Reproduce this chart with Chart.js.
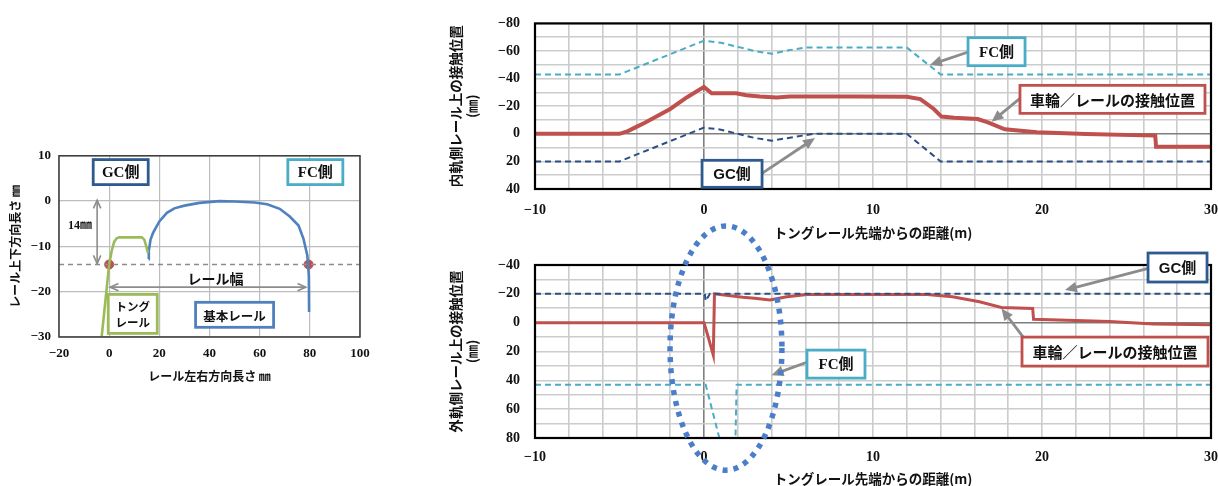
<!DOCTYPE html>
<html lang="ja">
<head>
<meta charset="utf-8">
<title>車輪／レールの接触位置</title>
<script src="https://cdn.jsdelivr.net/npm/chart.js@4.4.1/dist/chart.umd.min.js"></script>
<style>
  html, body { margin: 0; background: #fff; }
  body { position: relative; width: 1218px; height: 486px; overflow: hidden; }
  canvas { position: absolute; }
  #railChart { left: 0; top: 140px; }
  #innerChart { left: 440px; top: 0; }
  #outerChart { left: 440px; top: 215px; }
</style>
</head>
<body>
<canvas id="railChart" width="380" height="250"></canvas>
<canvas id="innerChart" width="778" height="250"></canvas>
<canvas id="outerChart" width="778" height="271"></canvas>
<script>
// rail cross section (mm)
const tongueX = [-3, -1.5, 0, 1, 2, 3, 4, 13, 14, 14.8, 15.5];
const tongueY = [-30, -22, -14, -11, -9, -8.2, -8, -8, -8.5, -10, -11.5];
const baseX = [15.7, 15.8, 16.5, 17.5, 20, 23, 26, 30, 36, 44, 50, 58, 63, 68, 72, 75.5, 77.5, 79, 79.6, 79.7];
const baseY = [-12.8, -11, -8.5, -7, -4.5, -2.6, -1.6, -1, -0.4, 0, -0.1, -0.3, -0.7, -1.7, -3.4, -5.4, -8.4, -12, -16.5, -24.5];
const gaugeX = [0, 79.5];
const gaugeY = [-14, -14];
const gaugeLineX = [-20, 100];
const railXLabels = [-20, 0, 20, 40, 60, 80, 100];
const railYLabels = [-30, -20, -10, 0, 10];

// inner rail contact position (mm) vs distance from tongue tip (m)
const innerFcX = [-10, -5, 0, 1, 2, 3, 4, 5, 6, 12, 14, 30];
const innerFcY = [-43, -43, -67.5, -66, -63, -60, -58, -60.5, -62.5, -62.5, -43, -43];
const innerGcX = [-10, -5, 0, 1, 2, 3, 4, 5, 6.5, 12, 14, 30];
const innerGcY = [20, 20, -4.5, -3, 0, 3, 5, 3, 0, 0, 20, 20];
const innerContactX = [-10, -5, -4.5, -4, -3.5, -2, -1, 0, 0.45, 1.9, 2.5, 3.3, 4.3, 5.1, 7, 9, 12, 12.8, 13.6, 14.05, 14.8, 16.2, 16.8, 17.8, 19.7, 22.6, 26.7, 26.75, 30];
const innerContactY = [0, 0, -2, -5, -8, -18, -26.5, -34, -29.4, -29.4, -28, -27, -26.3, -27, -27, -27, -26.9, -25.2, -18, -12.5, -11.6, -10.7, -8.3, -3.3, -1.2, 0.2, 1.3, 9.4, 9.4];

// outer rail contact position (mm)
const outerFcX = [-10, 0.1, 1.3, 1.83, 1.93, 30];
const outerFcY = [43, 43, 98, 98, 43, 43];
const outerGcX = [-10, 0.05, 0.1, 0.35, 30];
const outerGcY = [-20, -20, -15, -20, -20];
const outerContactX = [-10, 0, 0.2, 0.55, 0.62, 0.95, 2.3, 3, 3.9, 4.9, 6.1, 8, 10, 13.2, 14.7, 16.3, 17.6, 19.45, 19.5, 22.5, 24, 26.6, 30];
const outerContactY = [0, 0, 8, 22.5, -20, -19.6, -17.6, -17, -15.7, -18, -19.5, -19.5, -19.5, -19.5, -18, -14.5, -10.6, -9.9, -2.3, -1.3, -0.8, 1, 1.5];

const distLabels = [-10, 0, 10, 20, 30];
const innerLabels = [-80, -60, -40, -20, 0, 20, 40];
const outerLabels = [-40, -20, 0, 20, 40, 60, 80];

const RED = '#C0504D', TEAL = '#4BACC6', NAVY = '#2B4F85', GREEN = '#9BBB59', BLUE = '#4F81BD';
const JP = "'Noto Sans CJK JP', sans-serif";
const NUM = "'Liberation Serif', serif";

const pts = (xs, ys) => xs.map((x, i) => ({ x: x, y: ys[i] }));
const minus = v => String(v).replace('-', '\u2212');

function head(ctx, x1, y1, x2, y2, size, filled) {
  const a = Math.atan2(y2 - y1, x2 - x1);
  ctx.beginPath();
  ctx.moveTo(x2 - size * Math.cos(a - 0.42), y2 - size * Math.sin(a - 0.42));
  ctx.lineTo(x2, y2);
  ctx.lineTo(x2 - size * Math.cos(a + 0.42), y2 - size * Math.sin(a + 0.42));
  if (filled) { ctx.closePath(); ctx.fill(); } else { ctx.stroke(); }
}

const notes = {
  id: 'notes',
  afterDraw(chart, args, o) {
    const { ctx, chartArea: a } = chart;
    const X = v => chart.scales.x.getPixelForValue(v);
    const Y = v => chart.scales.y.getPixelForValue(v);
    ctx.save();
    ctx.strokeStyle = o.frameColor;
    ctx.lineWidth = o.frameWidth;
    ctx.strokeRect(a.left, a.top, a.right - a.left, a.bottom - a.top);

    (o.arrows || []).forEach(ar => {
      const x1 = X(ar.from[0]), y1 = Y(ar.from[1]), x2 = X(ar.to[0]), y2 = Y(ar.to[1]);
      ctx.strokeStyle = ctx.fillStyle = '#8C8C8C';
      ctx.lineWidth = ar.both ? 1.6 : 2.8;
      const ang = Math.atan2(y2 - y1, x2 - x1);
      const cut = ar.both ? 0 : 8;
      ctx.beginPath();
      ctx.moveTo(x1, y1);
      ctx.lineTo(x2 - cut * Math.cos(ang), y2 - cut * Math.sin(ang));
      ctx.stroke();
      if (ar.both) {
        head(ctx, x1, y1, x2, y2, 9, false);
        head(ctx, x2, y2, x1, y1, 9, false);
      } else {
        head(ctx, x1, y1, x2, y2, 13, true);
      }
    });

    (o.boxes || []).forEach(b => {
      const cx = X(b.at[0]), cy = Y(b.at[1]);
      ctx.fillStyle = '#fff';
      ctx.strokeStyle = b.color;
      ctx.lineWidth = 2.8;
      ctx.fillRect(cx - b.w / 2, cy - b.h / 2, b.w, b.h);
      ctx.strokeRect(cx - b.w / 2, cy - b.h / 2, b.w, b.h);
      ctx.fillStyle = '#111';
      ctx.font = b.font;
      ctx.textAlign = 'center';
      ctx.textBaseline = 'middle';
      const lh = b.lh || 0;
      b.text.forEach((t, i) => ctx.fillText(t, cx, cy + (i - (b.text.length - 1) / 2) * lh + 1));
    });

    (o.texts || []).forEach(t => {
      ctx.fillStyle = '#111';
      ctx.font = t.font;
      ctx.textAlign = 'center';
      ctx.textBaseline = 'middle';
      ctx.fillText(t.text, X(t.at[0]), Y(t.at[1]));
    });

    if (o.ellipse) {
      const e = o.ellipse;
      const cx = X(e.at[0]), cy = Y(e.at[1]);
      const rx = Math.abs(X(e.at[0] + e.rx) - cx), ry = Math.abs(Y(e.at[1] + e.ry) - cy);
      ctx.strokeStyle = '#4A7EC9';
      ctx.lineWidth = 5.5;
      ctx.lineCap = 'butt';
      ctx.setLineDash([5, 6]);
      ctx.beginPath();
      ctx.ellipse(cx, cy, rx, ry, 0, 0, Math.PI * 2);
      ctx.stroke();
    }
    ctx.restore();
  }
};

function lineSet(xs, ys, color, width, dash) {
  return {
    data: pts(xs, ys),
    showLine: true,
    borderColor: color,
    borderWidth: width,
    borderDash: dash || [],
    pointRadius: 0,
    tension: 0,
    fill: false
  };
}

// ---------- rail cross section ----------
new Chart(document.getElementById('railChart'), {
  type: 'scatter',
  data: {
    datasets: [
      lineSet(gaugeLineX, gaugeY, '#8C8C8C', 1.5, [5, 4]),
      lineSet(tongueX, tongueY, GREEN, 2.6),
      lineSet(baseX, baseY, BLUE, 2.6),
      { data: pts(gaugeX, gaugeY), pointRadius: 4.5, pointBackgroundColor: RED, pointBorderColor: RED, showLine: false }
    ]
  },
  options: {
    responsive: false,
    animation: false,
    layout: { padding: { top: 14, right: 20, left: 0, bottom: 0 } },
    plugins: {
      legend: { display: false },
      tooltip: { enabled: false },
      notes: {
        frameColor: '#3A3A3A', frameWidth: 1.5,
        arrows: [
          { from: [-4.8, 0.2], to: [-4.8, -13.8], both: true },
          { from: [0.4, -19], to: [78.4, -19], both: true }
        ],
        boxes: [
          { at: [4.6, 6.4], w: 55, h: 25, color: '#2E5A8E', text: ['GC側'], font: `bold 15px ${NUM}, ${JP}` },
          { at: [82.2, 6.4], w: 55, h: 25, color: TEAL, text: ['FC側'], font: `bold 15px ${NUM}, ${JP}` },
          { at: [9.4, -24.9], w: 49, h: 39, color: GREEN, text: ['トング', 'レール'], lh: 16, font: `bold 11.5px ${JP}` },
          { at: [50, -25.1], w: 78, h: 25, color: BLUE, text: ['基本レール'], font: `bold 12.5px ${JP}` }
        ],
        texts: [
          { at: [-11.6, -5.5], text: '14㎜', font: `bold 12px ${NUM}, ${JP}` },
          { at: [42.4, -17.1], text: 'レール幅', font: `bold 14px ${JP}` }
        ]
      }
    },
    scales: {
      x: {
        type: 'linear', min: -20, max: 100,
        afterFit: s => { s.height = 53; },
        afterBuildTicks: s => { s.ticks = railXLabels.map(v => ({ value: v })); },
        grid: { color: '#BDBDBD', lineWidth: 1.2, drawTicks: false },
        border: { display: false },
        ticks: { padding: 9, font: { family: NUM, size: 13, weight: 'bold' }, color: '#111', callback: v => minus(v) },
        title: { display: true, text: 'レール左右方向長さ ㎜', font: { family: JP, size: 12, weight: 'bold', lineHeight: 1 }, color: '#111', padding: { top: 0, bottom: 8 } }
      },
      y: {
        type: 'linear', min: -30, max: 10,
        afterFit: s => { s.width = 59; },
        afterBuildTicks: s => { s.ticks = railYLabels.map(v => ({ value: v })); },
        grid: { color: '#BDBDBD', lineWidth: 1.2, drawTicks: false },
        border: { display: false },
        ticks: { padding: 8, font: { family: NUM, size: 13, weight: 'bold' }, color: '#111', callback: v => minus(v) },
        title: { display: true, text: 'レール上下方向長さ ㎜', font: { family: JP, size: 12, weight: 'bold', lineHeight: 1 }, color: '#111', padding: { top: 9, bottom: 0 } }
      }
    }
  },
  plugins: [notes]
});

// ---------- shared options for the two distance charts ----------
function distOptions(yMin, yMax, yLabels, yTitle, xHeight, padTop, tickPad, titlePad, notesCfg) {
  const gridColor = c => (c.tick && c.tick.value === 0 ? '#7F7F7F' : '#CCCCCC');
  return {
    responsive: false,
    animation: false,
    layout: { padding: { top: padTop, right: 7, left: 0, bottom: 0 } },
    plugins: { legend: { display: false }, tooltip: { enabled: false }, notes: notesCfg },
    scales: {
      x: {
        type: 'linear', min: -10, max: 30,
        afterFit: s => { s.height = xHeight; s.paddingRight = 0; s.paddingLeft = 0; },
        grid: { color: gridColor, lineWidth: 1.6, drawTicks: false },
        border: { display: false },
        ticks: {
          stepSize: 2, autoSkip: false, maxRotation: 0, padding: tickPad,
          font: { family: NUM, size: 14, weight: 'bold' }, color: '#111',
          callback: v => (distLabels.includes(v) ? minus(v) : '')
        },
        title: { display: true, text: 'トングレール先端からの距離(m)', font: { family: JP, size: 13.5, weight: 'bold', lineHeight: 1 }, color: '#111', padding: { top: 0, bottom: titlePad } }
      },
      y: {
        type: 'linear', min: yMin, max: yMax, reverse: true,
        afterFit: s => { s.width = 95; },
        grid: { color: gridColor, lineWidth: 1.6, drawTicks: false },
        border: { display: false },
        ticks: {
          stepSize: 10, autoSkip: false, padding: 15,
          font: { family: NUM, size: 14, weight: 'bold' }, color: '#111',
          callback: v => (yLabels.includes(v) ? minus(v) : '')
        },
        title: { display: true, text: [yTitle, '(㎜)'], font: { family: JP, size: 13.5, weight: 'bold', lineHeight: 1.2 }, color: '#111', padding: { top: 8, bottom: 0 } }
      }
    }
  };
}

const bigFont = `bold 15px ${JP}`;
const latinFont = `bold 15px ${NUM}, ${JP}`;

// ---------- inner rail ----------
new Chart(document.getElementById('innerChart'), {
  type: 'scatter',
  data: {
    datasets: [
      lineSet(innerFcX, innerFcY, TEAL, 2, [6, 4]),
      lineSet(innerGcX, innerGcY, NAVY, 2, [6, 4]),
      lineSet(innerContactX, innerContactY, RED, 4)
    ]
  },
  options: distOptions(-80, 40, innerLabels, '内軌側レール上の接触位置', 61, 19, 13, 10, {
    frameColor: '#000', frameWidth: 2.2,
    arrows: [
      { from: [15.64, -59.3], to: [13.37, -49.9] },
      { from: [18.7, -25.7], to: [17.02, -8.7] },
      { from: [3.41, 28.9], to: [6.57, 3.06] }
    ],
    boxes: [
      { at: [17.31, -59.5], w: 57, h: 28, color: TEAL, text: ['FC側'], font: latinFont },
      { at: [24.17, -24.96], w: 185, h: 28, color: RED, text: ['車輪／レールの接触位置'], font: bigFont },
      { at: [1.66, 29.0], w: 60, h: 27, color: '#2E5A8E', text: ['GC側'], font: `bold 15px 'Liberation Sans', ${JP}` }
    ]
  }),
  plugins: [notes]
});

// ---------- outer rail ----------
new Chart(document.getElementById('outerChart'), {
  type: 'scatter',
  data: {
    datasets: [
      lineSet(outerFcX, outerFcY, TEAL, 2, [6, 4]),
      lineSet(outerGcX, outerGcY, NAVY, 2, [6, 4]),
      lineSet(outerContactX, outerContactY, RED, 3)
    ]
  },
  options: distOptions(-40, 80, outerLabels, '外軌側レール上の接触位置', 48, 50, 11, 0, {
    frameColor: '#000', frameWidth: 2.2,
    arrows: [
      { from: [26.29, -37.7], to: [21.36, -22.6] },
      { from: [18.9, 10.2], to: [17.6, -9.9] },
      { from: [6.17, 27.1], to: [4.0, 36.4] }
    ],
    boxes: [
      { at: [28.02, -38.26], w: 59, h: 29, color: '#2E5A8E', text: ['GC側'], font: `bold 15px 'Liberation Sans', ${JP}` },
      { at: [24.32, 20.07], w: 186, h: 29, color: RED, text: ['車輪／レールの接触位置'], font: bigFont },
      { at: [7.81, 28.75], w: 58, h: 28, color: TEAL, text: ['FC側'], font: latinFont }
    ],
    ellipse: { at: [1.3, 17.6], rx: 3.31, ry: 84.7 }
  }),
  plugins: [notes]
});
</script>
</body>
</html>
